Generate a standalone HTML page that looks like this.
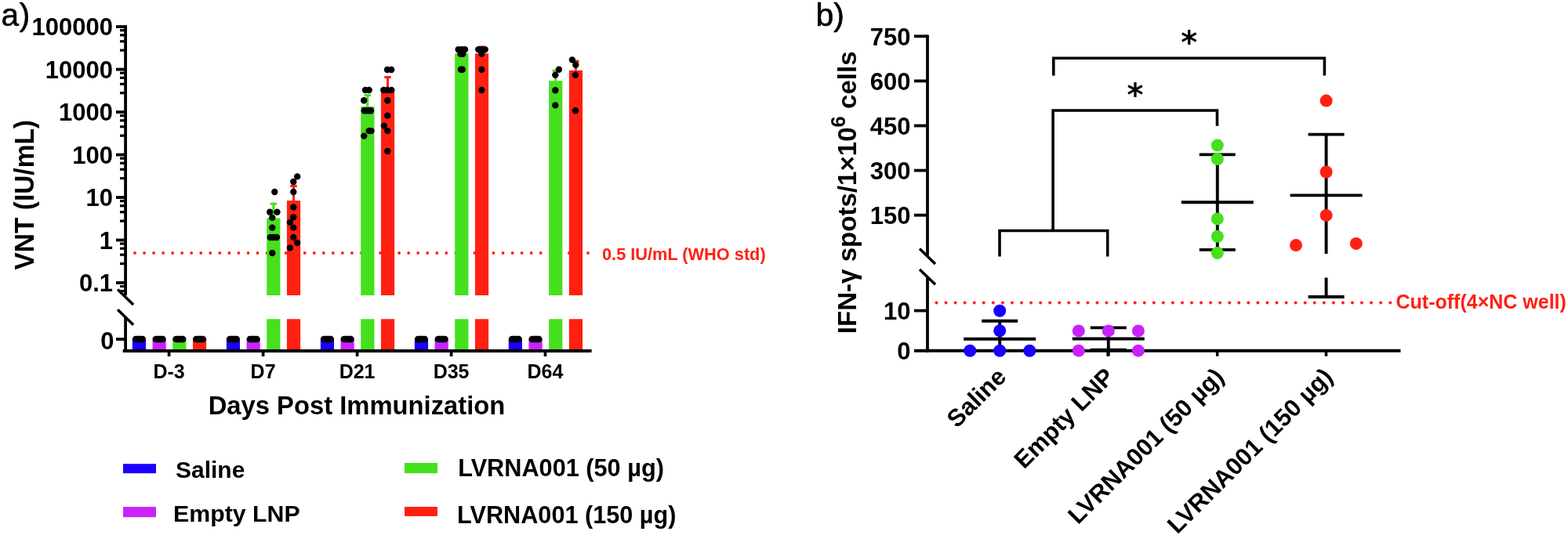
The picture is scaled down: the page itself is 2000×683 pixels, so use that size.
<!DOCTYPE html>
<html><head><meta charset="utf-8"><title>Figure</title>
<style>
html,body{margin:0;padding:0;background:#fff;}
body{width:2000px;height:683px;overflow:hidden;}
svg{display:block;font-family:"Liberation Sans",Arial,sans-serif;}
</style></head>
<body>
<svg width="2000" height="683" viewBox="0 0 2000 683">
<rect width="2000" height="683" fill="#fff"/>
<circle cx="172.00" cy="323.00" r="1.9" fill="#ff2012"/>
<circle cx="184.04" cy="323.00" r="1.9" fill="#ff2012"/>
<circle cx="196.08" cy="323.00" r="1.9" fill="#ff2012"/>
<circle cx="208.12" cy="323.00" r="1.9" fill="#ff2012"/>
<circle cx="220.16" cy="323.00" r="1.9" fill="#ff2012"/>
<circle cx="232.20" cy="323.00" r="1.9" fill="#ff2012"/>
<circle cx="244.24" cy="323.00" r="1.9" fill="#ff2012"/>
<circle cx="256.28" cy="323.00" r="1.9" fill="#ff2012"/>
<circle cx="268.32" cy="323.00" r="1.9" fill="#ff2012"/>
<circle cx="280.36" cy="323.00" r="1.9" fill="#ff2012"/>
<circle cx="292.40" cy="323.00" r="1.9" fill="#ff2012"/>
<circle cx="304.44" cy="323.00" r="1.9" fill="#ff2012"/>
<circle cx="316.48" cy="323.00" r="1.9" fill="#ff2012"/>
<circle cx="328.52" cy="323.00" r="1.9" fill="#ff2012"/>
<circle cx="340.56" cy="323.00" r="1.9" fill="#ff2012"/>
<circle cx="352.60" cy="323.00" r="1.9" fill="#ff2012"/>
<circle cx="364.64" cy="323.00" r="1.9" fill="#ff2012"/>
<circle cx="376.68" cy="323.00" r="1.9" fill="#ff2012"/>
<circle cx="388.72" cy="323.00" r="1.9" fill="#ff2012"/>
<circle cx="400.76" cy="323.00" r="1.9" fill="#ff2012"/>
<circle cx="412.80" cy="323.00" r="1.9" fill="#ff2012"/>
<circle cx="424.84" cy="323.00" r="1.9" fill="#ff2012"/>
<circle cx="436.88" cy="323.00" r="1.9" fill="#ff2012"/>
<circle cx="448.92" cy="323.00" r="1.9" fill="#ff2012"/>
<circle cx="460.96" cy="323.00" r="1.9" fill="#ff2012"/>
<circle cx="473.00" cy="323.00" r="1.9" fill="#ff2012"/>
<circle cx="485.04" cy="323.00" r="1.9" fill="#ff2012"/>
<circle cx="497.08" cy="323.00" r="1.9" fill="#ff2012"/>
<circle cx="509.12" cy="323.00" r="1.9" fill="#ff2012"/>
<circle cx="521.16" cy="323.00" r="1.9" fill="#ff2012"/>
<circle cx="533.20" cy="323.00" r="1.9" fill="#ff2012"/>
<circle cx="545.24" cy="323.00" r="1.9" fill="#ff2012"/>
<circle cx="557.28" cy="323.00" r="1.9" fill="#ff2012"/>
<circle cx="569.32" cy="323.00" r="1.9" fill="#ff2012"/>
<circle cx="581.36" cy="323.00" r="1.9" fill="#ff2012"/>
<circle cx="593.40" cy="323.00" r="1.9" fill="#ff2012"/>
<circle cx="605.44" cy="323.00" r="1.9" fill="#ff2012"/>
<circle cx="617.48" cy="323.00" r="1.9" fill="#ff2012"/>
<circle cx="629.52" cy="323.00" r="1.9" fill="#ff2012"/>
<circle cx="641.56" cy="323.00" r="1.9" fill="#ff2012"/>
<circle cx="653.60" cy="323.00" r="1.9" fill="#ff2012"/>
<circle cx="665.64" cy="323.00" r="1.9" fill="#ff2012"/>
<circle cx="677.68" cy="323.00" r="1.9" fill="#ff2012"/>
<circle cx="689.72" cy="323.00" r="1.9" fill="#ff2012"/>
<circle cx="701.76" cy="323.00" r="1.9" fill="#ff2012"/>
<circle cx="713.80" cy="323.00" r="1.9" fill="#ff2012"/>
<circle cx="725.84" cy="323.00" r="1.9" fill="#ff2012"/>
<circle cx="737.88" cy="323.00" r="1.9" fill="#ff2012"/>
<circle cx="749.92" cy="323.00" r="1.9" fill="#ff2012"/>
<rect x="168.85" y="433.00" width="17.20" height="15.00" fill="#1a00ff"/>
<rect x="194.55" y="433.00" width="17.20" height="15.00" fill="#c822ff"/>
<rect x="220.25" y="433.00" width="17.20" height="15.00" fill="#46e01e"/>
<rect x="245.95" y="433.00" width="17.20" height="15.00" fill="#ff2012"/>
<rect x="288.85" y="433.00" width="17.20" height="15.00" fill="#1a00ff"/>
<rect x="314.55" y="433.00" width="17.20" height="15.00" fill="#c822ff"/>
<rect x="408.85" y="433.00" width="17.20" height="15.00" fill="#1a00ff"/>
<rect x="434.55" y="433.00" width="17.20" height="15.00" fill="#c822ff"/>
<rect x="528.85" y="433.00" width="17.20" height="15.00" fill="#1a00ff"/>
<rect x="554.55" y="433.00" width="17.20" height="15.00" fill="#c822ff"/>
<rect x="648.75" y="433.00" width="17.20" height="15.00" fill="#1a00ff"/>
<rect x="674.45" y="433.00" width="17.20" height="15.00" fill="#c822ff"/>
<line x1="348.85" y1="258.70" x2="348.85" y2="278.50" stroke="#46e01e" stroke-width="3.0" stroke-linecap="butt"/>
<line x1="344.65" y1="260.20" x2="353.05" y2="260.20" stroke="#46e01e" stroke-width="3.0" stroke-linecap="butt"/>
<rect x="340.25" y="278.50" width="17.20" height="98.50" fill="#46e01e"/>
<rect x="340.25" y="407.30" width="17.20" height="40.70" fill="#46e01e"/>
<line x1="374.55" y1="236.00" x2="374.55" y2="256.10" stroke="#ff2012" stroke-width="3.0" stroke-linecap="butt"/>
<line x1="370.35" y1="237.50" x2="378.75" y2="237.50" stroke="#ff2012" stroke-width="3.0" stroke-linecap="butt"/>
<rect x="365.95" y="256.10" width="17.20" height="120.90" fill="#ff2012"/>
<rect x="365.95" y="407.30" width="17.20" height="40.70" fill="#ff2012"/>
<line x1="468.85" y1="120.20" x2="468.85" y2="136.00" stroke="#46e01e" stroke-width="3.0" stroke-linecap="butt"/>
<line x1="464.65" y1="121.70" x2="473.05" y2="121.70" stroke="#46e01e" stroke-width="3.0" stroke-linecap="butt"/>
<rect x="460.25" y="136.00" width="17.20" height="241.00" fill="#46e01e"/>
<rect x="460.25" y="407.30" width="17.20" height="40.70" fill="#46e01e"/>
<line x1="494.55" y1="97.00" x2="494.55" y2="115.00" stroke="#ff2012" stroke-width="3.0" stroke-linecap="butt"/>
<line x1="490.35" y1="98.50" x2="498.75" y2="98.50" stroke="#ff2012" stroke-width="3.0" stroke-linecap="butt"/>
<rect x="485.95" y="115.00" width="17.20" height="262.00" fill="#ff2012"/>
<rect x="485.95" y="407.30" width="17.20" height="40.70" fill="#ff2012"/>
<line x1="588.85" y1="63.00" x2="588.85" y2="68.30" stroke="#46e01e" stroke-width="3.0" stroke-linecap="butt"/>
<line x1="584.65" y1="64.50" x2="593.05" y2="64.50" stroke="#46e01e" stroke-width="3.0" stroke-linecap="butt"/>
<rect x="580.25" y="68.30" width="17.20" height="308.70" fill="#46e01e"/>
<rect x="580.25" y="407.30" width="17.20" height="40.70" fill="#46e01e"/>
<line x1="614.55" y1="58.60" x2="614.55" y2="68.30" stroke="#ff2012" stroke-width="3.0" stroke-linecap="butt"/>
<line x1="610.35" y1="60.10" x2="618.75" y2="60.10" stroke="#ff2012" stroke-width="3.0" stroke-linecap="butt"/>
<rect x="605.95" y="68.30" width="17.20" height="308.70" fill="#ff2012"/>
<rect x="605.95" y="407.30" width="17.20" height="40.70" fill="#ff2012"/>
<line x1="708.75" y1="88.80" x2="708.75" y2="103.20" stroke="#46e01e" stroke-width="3.0" stroke-linecap="butt"/>
<line x1="704.55" y1="90.30" x2="712.95" y2="90.30" stroke="#46e01e" stroke-width="3.0" stroke-linecap="butt"/>
<rect x="700.15" y="103.20" width="17.20" height="273.80" fill="#46e01e"/>
<rect x="700.15" y="407.30" width="17.20" height="40.70" fill="#46e01e"/>
<line x1="734.45" y1="76.70" x2="734.45" y2="89.80" stroke="#ff2012" stroke-width="3.0" stroke-linecap="butt"/>
<line x1="730.25" y1="78.20" x2="738.65" y2="78.20" stroke="#ff2012" stroke-width="3.0" stroke-linecap="butt"/>
<rect x="725.85" y="89.80" width="17.20" height="287.20" fill="#ff2012"/>
<rect x="725.85" y="407.30" width="17.20" height="40.70" fill="#ff2012"/>
<rect x="168.85" y="428.70" width="17.20" height="8.60" fill="#000" rx="4.3"/>
<rect x="194.55" y="428.70" width="17.20" height="8.60" fill="#000" rx="4.3"/>
<rect x="220.25" y="428.70" width="17.20" height="8.60" fill="#000" rx="4.3"/>
<rect x="245.95" y="428.70" width="17.20" height="8.60" fill="#000" rx="4.3"/>
<rect x="288.85" y="428.70" width="17.20" height="8.60" fill="#000" rx="4.3"/>
<rect x="314.55" y="428.70" width="17.20" height="8.60" fill="#000" rx="4.3"/>
<rect x="408.85" y="428.70" width="17.20" height="8.60" fill="#000" rx="4.3"/>
<rect x="434.55" y="428.70" width="17.20" height="8.60" fill="#000" rx="4.3"/>
<rect x="528.85" y="428.70" width="17.20" height="8.60" fill="#000" rx="4.3"/>
<rect x="554.55" y="428.70" width="17.20" height="8.60" fill="#000" rx="4.3"/>
<rect x="648.75" y="428.70" width="17.20" height="8.60" fill="#000" rx="4.3"/>
<rect x="674.45" y="428.70" width="17.20" height="8.60" fill="#000" rx="4.3"/>
<circle cx="350.30" cy="245.00" r="4.2" fill="#000"/>
<circle cx="344.20" cy="270.80" r="4.2" fill="#000"/>
<circle cx="353.50" cy="270.80" r="4.2" fill="#000"/>
<circle cx="347.30" cy="277.90" r="4.2" fill="#000"/>
<circle cx="347.30" cy="290.60" r="4.2" fill="#000"/>
<circle cx="344.70" cy="303.00" r="4.2" fill="#000"/>
<circle cx="348.80" cy="303.00" r="4.2" fill="#000"/>
<circle cx="353.00" cy="303.00" r="4.2" fill="#000"/>
<circle cx="347.30" cy="323.00" r="4.2" fill="#000"/>
<circle cx="379.20" cy="225.40" r="4.2" fill="#000"/>
<circle cx="374.30" cy="232.00" r="4.2" fill="#000"/>
<circle cx="374.30" cy="245.00" r="4.2" fill="#000"/>
<circle cx="374.30" cy="264.50" r="4.2" fill="#000"/>
<circle cx="374.30" cy="277.30" r="4.2" fill="#000"/>
<circle cx="369.90" cy="283.90" r="4.2" fill="#000"/>
<circle cx="374.30" cy="290.60" r="4.2" fill="#000"/>
<circle cx="374.30" cy="303.00" r="4.2" fill="#000"/>
<circle cx="379.20" cy="310.00" r="4.2" fill="#000"/>
<circle cx="369.90" cy="316.40" r="4.2" fill="#000"/>
<circle cx="466.00" cy="115.00" r="4.2" fill="#000"/>
<circle cx="470.70" cy="115.00" r="4.2" fill="#000"/>
<circle cx="464.20" cy="128.20" r="4.2" fill="#000"/>
<circle cx="464.70" cy="141.30" r="4.2" fill="#000"/>
<circle cx="467.50" cy="141.30" r="4.2" fill="#000"/>
<circle cx="470.30" cy="141.30" r="4.2" fill="#000"/>
<circle cx="473.00" cy="141.30" r="4.2" fill="#000"/>
<circle cx="470.70" cy="167.10" r="4.2" fill="#000"/>
<circle cx="473.50" cy="167.10" r="4.2" fill="#000"/>
<circle cx="464.20" cy="173.60" r="4.2" fill="#000"/>
<circle cx="494.00" cy="89.00" r="4.2" fill="#000"/>
<circle cx="499.20" cy="89.00" r="4.2" fill="#000"/>
<circle cx="489.30" cy="115.00" r="4.2" fill="#000"/>
<circle cx="494.00" cy="115.00" r="4.2" fill="#000"/>
<circle cx="499.30" cy="115.00" r="4.2" fill="#000"/>
<circle cx="494.30" cy="128.20" r="4.2" fill="#000"/>
<circle cx="494.30" cy="147.60" r="4.2" fill="#000"/>
<circle cx="489.90" cy="160.60" r="4.2" fill="#000"/>
<circle cx="494.30" cy="167.10" r="4.2" fill="#000"/>
<circle cx="494.30" cy="193.00" r="4.2" fill="#000"/>
<circle cx="584.70" cy="63.30" r="4.2" fill="#000"/>
<circle cx="588.80" cy="63.30" r="4.2" fill="#000"/>
<circle cx="593.00" cy="63.30" r="4.2" fill="#000"/>
<circle cx="587.50" cy="68.80" r="4.2" fill="#000"/>
<circle cx="590.30" cy="68.80" r="4.2" fill="#000"/>
<circle cx="587.80" cy="88.70" r="4.2" fill="#000"/>
<circle cx="589.80" cy="88.70" r="4.2" fill="#000"/>
<circle cx="610.30" cy="63.30" r="4.2" fill="#000"/>
<circle cx="614.50" cy="63.30" r="4.2" fill="#000"/>
<circle cx="618.70" cy="63.30" r="4.2" fill="#000"/>
<circle cx="614.30" cy="68.80" r="4.2" fill="#000"/>
<circle cx="614.30" cy="88.70" r="4.2" fill="#000"/>
<circle cx="614.30" cy="115.00" r="4.2" fill="#000"/>
<circle cx="712.90" cy="88.80" r="4.2" fill="#000"/>
<circle cx="708.30" cy="95.70" r="4.2" fill="#000"/>
<circle cx="708.30" cy="115.30" r="4.2" fill="#000"/>
<circle cx="708.30" cy="134.40" r="4.2" fill="#000"/>
<circle cx="729.90" cy="76.40" r="4.2" fill="#000"/>
<circle cx="734.30" cy="82.70" r="4.2" fill="#000"/>
<circle cx="734.00" cy="95.70" r="4.2" fill="#000"/>
<circle cx="734.00" cy="141.30" r="4.2" fill="#000"/>
<line x1="160.10" y1="32.20" x2="160.10" y2="377.00" stroke="#000" stroke-width="3.8" stroke-linecap="butt"/>
<line x1="160.10" y1="405.00" x2="160.10" y2="449.90" stroke="#000" stroke-width="3.8" stroke-linecap="butt"/>
<line x1="156.70" y1="448.00" x2="754.60" y2="448.00" stroke="#000" stroke-width="4.0" stroke-linecap="butt"/>
<line x1="150.10" y1="369.50" x2="170.10" y2="389.00" stroke="#000" stroke-width="3.5" stroke-linecap="butt"/>
<line x1="150.10" y1="395.25" x2="170.10" y2="414.75" stroke="#000" stroke-width="3.5" stroke-linecap="butt"/>
<line x1="148.00" y1="34.10" x2="160.10" y2="34.10" stroke="#000" stroke-width="3.8" stroke-linecap="butt"/>
<line x1="148.00" y1="88.58" x2="160.10" y2="88.58" stroke="#000" stroke-width="3.8" stroke-linecap="butt"/>
<line x1="148.00" y1="143.06" x2="160.10" y2="143.06" stroke="#000" stroke-width="3.8" stroke-linecap="butt"/>
<line x1="148.00" y1="197.54" x2="160.10" y2="197.54" stroke="#000" stroke-width="3.8" stroke-linecap="butt"/>
<line x1="148.00" y1="252.02" x2="160.10" y2="252.02" stroke="#000" stroke-width="3.8" stroke-linecap="butt"/>
<line x1="148.00" y1="306.50" x2="160.10" y2="306.50" stroke="#000" stroke-width="3.8" stroke-linecap="butt"/>
<line x1="148.00" y1="360.98" x2="160.10" y2="360.98" stroke="#000" stroke-width="3.8" stroke-linecap="butt"/>
<line x1="153.00" y1="38.70" x2="160.10" y2="38.70" stroke="#000" stroke-width="3.2" stroke-linecap="butt"/>
<line x1="153.00" y1="44.85" x2="160.10" y2="44.85" stroke="#000" stroke-width="3.2" stroke-linecap="butt"/>
<line x1="153.00" y1="52.80" x2="160.10" y2="52.80" stroke="#000" stroke-width="3.2" stroke-linecap="butt"/>
<line x1="153.00" y1="64.20" x2="160.10" y2="64.20" stroke="#000" stroke-width="3.2" stroke-linecap="butt"/>
<line x1="153.00" y1="93.18" x2="160.10" y2="93.18" stroke="#000" stroke-width="3.2" stroke-linecap="butt"/>
<line x1="153.00" y1="99.33" x2="160.10" y2="99.33" stroke="#000" stroke-width="3.2" stroke-linecap="butt"/>
<line x1="153.00" y1="107.28" x2="160.10" y2="107.28" stroke="#000" stroke-width="3.2" stroke-linecap="butt"/>
<line x1="153.00" y1="118.68" x2="160.10" y2="118.68" stroke="#000" stroke-width="3.2" stroke-linecap="butt"/>
<line x1="153.00" y1="147.66" x2="160.10" y2="147.66" stroke="#000" stroke-width="3.2" stroke-linecap="butt"/>
<line x1="153.00" y1="153.81" x2="160.10" y2="153.81" stroke="#000" stroke-width="3.2" stroke-linecap="butt"/>
<line x1="153.00" y1="161.76" x2="160.10" y2="161.76" stroke="#000" stroke-width="3.2" stroke-linecap="butt"/>
<line x1="153.00" y1="173.16" x2="160.10" y2="173.16" stroke="#000" stroke-width="3.2" stroke-linecap="butt"/>
<line x1="153.00" y1="202.14" x2="160.10" y2="202.14" stroke="#000" stroke-width="3.2" stroke-linecap="butt"/>
<line x1="153.00" y1="208.29" x2="160.10" y2="208.29" stroke="#000" stroke-width="3.2" stroke-linecap="butt"/>
<line x1="153.00" y1="216.24" x2="160.10" y2="216.24" stroke="#000" stroke-width="3.2" stroke-linecap="butt"/>
<line x1="153.00" y1="227.64" x2="160.10" y2="227.64" stroke="#000" stroke-width="3.2" stroke-linecap="butt"/>
<line x1="153.00" y1="256.62" x2="160.10" y2="256.62" stroke="#000" stroke-width="3.2" stroke-linecap="butt"/>
<line x1="153.00" y1="262.77" x2="160.10" y2="262.77" stroke="#000" stroke-width="3.2" stroke-linecap="butt"/>
<line x1="153.00" y1="270.72" x2="160.10" y2="270.72" stroke="#000" stroke-width="3.2" stroke-linecap="butt"/>
<line x1="153.00" y1="282.12" x2="160.10" y2="282.12" stroke="#000" stroke-width="3.2" stroke-linecap="butt"/>
<line x1="153.00" y1="311.10" x2="160.10" y2="311.10" stroke="#000" stroke-width="3.2" stroke-linecap="butt"/>
<line x1="153.00" y1="317.25" x2="160.10" y2="317.25" stroke="#000" stroke-width="3.2" stroke-linecap="butt"/>
<line x1="153.00" y1="325.20" x2="160.10" y2="325.20" stroke="#000" stroke-width="3.2" stroke-linecap="butt"/>
<line x1="153.00" y1="336.60" x2="160.10" y2="336.60" stroke="#000" stroke-width="3.2" stroke-linecap="butt"/>
<line x1="153.00" y1="365.58" x2="160.10" y2="365.58" stroke="#000" stroke-width="3.0" stroke-linecap="butt"/>
<line x1="153.00" y1="371.48" x2="160.10" y2="371.48" stroke="#000" stroke-width="3.0" stroke-linecap="butt"/>
<line x1="148.00" y1="433.00" x2="160.10" y2="433.00" stroke="#000" stroke-width="3.8" stroke-linecap="butt"/>
<line x1="215.60" y1="448.00" x2="215.60" y2="455.00" stroke="#000" stroke-width="3.7" stroke-linecap="butt"/>
<line x1="335.60" y1="448.00" x2="335.60" y2="455.00" stroke="#000" stroke-width="3.7" stroke-linecap="butt"/>
<line x1="455.60" y1="448.00" x2="455.60" y2="455.00" stroke="#000" stroke-width="3.7" stroke-linecap="butt"/>
<line x1="575.60" y1="448.00" x2="575.60" y2="455.00" stroke="#000" stroke-width="3.7" stroke-linecap="butt"/>
<line x1="695.50" y1="448.00" x2="695.50" y2="455.00" stroke="#000" stroke-width="3.7" stroke-linecap="butt"/>
<text x="144.00" y="45.40" font-size="31" font-weight="bold" text-anchor="end" fill="#000">100000</text>
<text x="144.00" y="99.88" font-size="31" font-weight="bold" text-anchor="end" fill="#000">10000</text>
<text x="144.00" y="154.36" font-size="31" font-weight="bold" text-anchor="end" fill="#000">1000</text>
<text x="144.00" y="208.84" font-size="31" font-weight="bold" text-anchor="end" fill="#000">100</text>
<text x="144.00" y="263.32" font-size="31" font-weight="bold" text-anchor="end" fill="#000">10</text>
<text x="144.00" y="317.80" font-size="31" font-weight="bold" text-anchor="end" fill="#000">1</text>
<text x="144.00" y="372.28" font-size="31" font-weight="bold" text-anchor="end" fill="#000">0.1</text>
<text x="145.60" y="446.00" font-size="31" font-weight="bold" text-anchor="end" fill="#000">0</text>
<text x="215.60" y="482.60" font-size="25" font-weight="bold" text-anchor="middle" fill="#000">D-3</text>
<text x="335.60" y="482.60" font-size="25" font-weight="bold" text-anchor="middle" fill="#000">D7</text>
<text x="455.60" y="482.60" font-size="25" font-weight="bold" text-anchor="middle" fill="#000">D21</text>
<text x="575.60" y="482.60" font-size="25" font-weight="bold" text-anchor="middle" fill="#000">D35</text>
<text x="695.50" y="482.60" font-size="25" font-weight="bold" text-anchor="middle" fill="#000">D64</text>
<text x="455.00" y="529.00" font-size="33.2" font-weight="bold" text-anchor="middle" fill="#000" textLength="378.6" lengthAdjust="spacingAndGlyphs">Days Post Immunization</text>
<text transform="translate(43.1,248.75) rotate(-90)" font-size="34.8" textLength="191.5" lengthAdjust="spacingAndGlyphs" font-weight="bold" text-anchor="middle" fill="#000">VNT (IU/mL)</text>
<text x="1.5" y="33" font-size="40.5" fill="#000" stroke="#000" stroke-width="0.6">a<tspan dx="0.8">)</tspan></text>
<text x="768.00" y="332.00" font-size="21.75" font-weight="bold" text-anchor="start" fill="#ff2012">0.5 IU/mL (WHO std)</text>
<rect x="157.00" y="592.20" width="42.00" height="12.00" fill="#1a00ff"/>
<rect x="157.00" y="647.10" width="42.00" height="13.10" fill="#c822ff"/>
<rect x="516.00" y="591.00" width="42.00" height="13.20" fill="#46e01e"/>
<rect x="516.00" y="647.00" width="42.00" height="12.00" fill="#ff2012"/>
<text x="224.00" y="610.00" font-size="30" font-weight="bold" text-anchor="start" fill="#000">Saline</text>
<text x="221.00" y="666.40" font-size="30.3" font-weight="bold" text-anchor="start" fill="#000">Empty LNP</text>
<text x="584.20" y="607.80" font-size="30.7" font-weight="bold" text-anchor="start" fill="#000">LVRNA001 (50 µg)</text>
<text x="583.10" y="667.50" font-size="30.65" font-weight="bold" text-anchor="start" fill="#000">LVRNA001 (150 µg)</text>
<circle cx="1194.50" cy="386.60" r="2.0" fill="#ff2012"/>
<circle cx="1206.56" cy="386.60" r="2.0" fill="#ff2012"/>
<circle cx="1218.61" cy="386.60" r="2.0" fill="#ff2012"/>
<circle cx="1230.67" cy="386.60" r="2.0" fill="#ff2012"/>
<circle cx="1242.72" cy="386.60" r="2.0" fill="#ff2012"/>
<circle cx="1254.78" cy="386.60" r="2.0" fill="#ff2012"/>
<circle cx="1266.84" cy="386.60" r="2.0" fill="#ff2012"/>
<circle cx="1278.89" cy="386.60" r="2.0" fill="#ff2012"/>
<circle cx="1290.95" cy="386.60" r="2.0" fill="#ff2012"/>
<circle cx="1303.00" cy="386.60" r="2.0" fill="#ff2012"/>
<circle cx="1315.06" cy="386.60" r="2.0" fill="#ff2012"/>
<circle cx="1327.12" cy="386.60" r="2.0" fill="#ff2012"/>
<circle cx="1339.17" cy="386.60" r="2.0" fill="#ff2012"/>
<circle cx="1351.23" cy="386.60" r="2.0" fill="#ff2012"/>
<circle cx="1363.28" cy="386.60" r="2.0" fill="#ff2012"/>
<circle cx="1375.34" cy="386.60" r="2.0" fill="#ff2012"/>
<circle cx="1387.40" cy="386.60" r="2.0" fill="#ff2012"/>
<circle cx="1399.45" cy="386.60" r="2.0" fill="#ff2012"/>
<circle cx="1411.51" cy="386.60" r="2.0" fill="#ff2012"/>
<circle cx="1423.56" cy="386.60" r="2.0" fill="#ff2012"/>
<circle cx="1435.62" cy="386.60" r="2.0" fill="#ff2012"/>
<circle cx="1447.68" cy="386.60" r="2.0" fill="#ff2012"/>
<circle cx="1459.73" cy="386.60" r="2.0" fill="#ff2012"/>
<circle cx="1471.79" cy="386.60" r="2.0" fill="#ff2012"/>
<circle cx="1483.84" cy="386.60" r="2.0" fill="#ff2012"/>
<circle cx="1495.90" cy="386.60" r="2.0" fill="#ff2012"/>
<circle cx="1507.96" cy="386.60" r="2.0" fill="#ff2012"/>
<circle cx="1520.01" cy="386.60" r="2.0" fill="#ff2012"/>
<circle cx="1532.07" cy="386.60" r="2.0" fill="#ff2012"/>
<circle cx="1544.12" cy="386.60" r="2.0" fill="#ff2012"/>
<circle cx="1556.18" cy="386.60" r="2.0" fill="#ff2012"/>
<circle cx="1568.24" cy="386.60" r="2.0" fill="#ff2012"/>
<circle cx="1580.29" cy="386.60" r="2.0" fill="#ff2012"/>
<circle cx="1592.35" cy="386.60" r="2.0" fill="#ff2012"/>
<circle cx="1604.40" cy="386.60" r="2.0" fill="#ff2012"/>
<circle cx="1616.46" cy="386.60" r="2.0" fill="#ff2012"/>
<circle cx="1628.52" cy="386.60" r="2.0" fill="#ff2012"/>
<circle cx="1640.57" cy="386.60" r="2.0" fill="#ff2012"/>
<circle cx="1652.63" cy="386.60" r="2.0" fill="#ff2012"/>
<circle cx="1664.68" cy="386.60" r="2.0" fill="#ff2012"/>
<circle cx="1676.74" cy="386.60" r="2.0" fill="#ff2012"/>
<circle cx="1688.80" cy="386.60" r="2.0" fill="#ff2012"/>
<circle cx="1700.85" cy="386.60" r="2.0" fill="#ff2012"/>
<circle cx="1712.91" cy="386.60" r="2.0" fill="#ff2012"/>
<circle cx="1724.96" cy="386.60" r="2.0" fill="#ff2012"/>
<circle cx="1737.02" cy="386.60" r="2.0" fill="#ff2012"/>
<circle cx="1749.08" cy="386.60" r="2.0" fill="#ff2012"/>
<circle cx="1761.13" cy="386.60" r="2.0" fill="#ff2012"/>
<circle cx="1773.19" cy="386.60" r="2.0" fill="#ff2012"/>
<text x="1780.50" y="393.50" font-size="25" font-weight="bold" text-anchor="start" fill="#ff2012">Cut-off(4×NC well)</text>
<path d="M1343.8,96.6 V74.2 H1689.4 V96.6" fill="none" stroke="#000" stroke-width="3.6" stroke-linejoin="miter" stroke-linecap="butt"/>
<path d="M1343.1,294.5 V141.0 H1552.5 V160.7" fill="none" stroke="#000" stroke-width="3.6" stroke-linejoin="miter" stroke-linecap="butt"/>
<path d="M1275.0,327.4 V294.5 H1412.7 V327.4" fill="none" stroke="#000" stroke-width="3.6" stroke-linejoin="miter" stroke-linecap="butt"/>
<text x="1516.6" y="67.5" font-size="40" font-weight="bold" text-anchor="middle" font-family="DejaVu Sans, sans-serif">*</text>
<text x="1448" y="134.8" font-size="40" font-weight="bold" text-anchor="middle" font-family="DejaVu Sans, sans-serif">*</text>
<line x1="1229.20" y1="432.75" x2="1321.20" y2="432.75" stroke="#000" stroke-width="3.9" stroke-linecap="butt"/>
<line x1="1275.20" y1="409.80" x2="1275.20" y2="448.00" stroke="#000" stroke-width="3.9" stroke-linecap="butt"/>
<line x1="1252.20" y1="409.80" x2="1298.20" y2="409.80" stroke="#000" stroke-width="3.9" stroke-linecap="butt"/>
<line x1="1367.80" y1="432.50" x2="1459.80" y2="432.50" stroke="#000" stroke-width="3.9" stroke-linecap="butt"/>
<line x1="1413.80" y1="418.40" x2="1413.80" y2="454.40" stroke="#000" stroke-width="3.9" stroke-linecap="butt"/>
<line x1="1390.80" y1="418.40" x2="1436.80" y2="418.40" stroke="#000" stroke-width="3.9" stroke-linecap="butt"/>
<line x1="1390.80" y1="446.70" x2="1436.80" y2="446.70" stroke="#000" stroke-width="3.9" stroke-linecap="butt"/>
<line x1="1506.80" y1="258.30" x2="1598.80" y2="258.30" stroke="#000" stroke-width="3.9" stroke-linecap="butt"/>
<line x1="1552.80" y1="197.40" x2="1552.80" y2="318.90" stroke="#000" stroke-width="3.9" stroke-linecap="butt"/>
<line x1="1529.80" y1="197.40" x2="1575.80" y2="197.40" stroke="#000" stroke-width="3.9" stroke-linecap="butt"/>
<line x1="1529.80" y1="318.90" x2="1575.80" y2="318.90" stroke="#000" stroke-width="3.9" stroke-linecap="butt"/>
<line x1="1645.60" y1="249.40" x2="1737.60" y2="249.40" stroke="#000" stroke-width="3.9" stroke-linecap="butt"/>
<line x1="1691.60" y1="171.60" x2="1691.60" y2="324.00" stroke="#000" stroke-width="3.9" stroke-linecap="butt"/>
<line x1="1668.60" y1="171.60" x2="1714.60" y2="171.60" stroke="#000" stroke-width="3.9" stroke-linecap="butt"/>
<line x1="1691.60" y1="354.50" x2="1691.60" y2="379.00" stroke="#000" stroke-width="3.9" stroke-linecap="butt"/>
<line x1="1668.60" y1="379.00" x2="1714.60" y2="379.00" stroke="#000" stroke-width="3.9" stroke-linecap="butt"/>
<line x1="1183.00" y1="44.50" x2="1183.00" y2="326.00" stroke="#000" stroke-width="3.8" stroke-linecap="butt"/>
<line x1="1183.00" y1="354.50" x2="1183.00" y2="449.90" stroke="#000" stroke-width="3.8" stroke-linecap="butt"/>
<line x1="1166.00" y1="447.80" x2="1786.50" y2="447.80" stroke="#000" stroke-width="4.0" stroke-linecap="butt"/>
<line x1="1173.00" y1="317.50" x2="1193.00" y2="336.90" stroke="#000" stroke-width="3.5" stroke-linecap="butt"/>
<line x1="1173.00" y1="343.90" x2="1193.00" y2="363.30" stroke="#000" stroke-width="3.5" stroke-linecap="butt"/>
<line x1="1166.00" y1="46.30" x2="1183.00" y2="46.30" stroke="#000" stroke-width="3.8" stroke-linecap="butt"/>
<text x="1161.50" y="57.60" font-size="31" font-weight="bold" text-anchor="end" fill="#000">750</text>
<line x1="1166.00" y1="103.40" x2="1183.00" y2="103.40" stroke="#000" stroke-width="3.8" stroke-linecap="butt"/>
<text x="1161.50" y="114.70" font-size="31" font-weight="bold" text-anchor="end" fill="#000">600</text>
<line x1="1166.00" y1="160.50" x2="1183.00" y2="160.50" stroke="#000" stroke-width="3.8" stroke-linecap="butt"/>
<text x="1161.50" y="171.80" font-size="31" font-weight="bold" text-anchor="end" fill="#000">450</text>
<line x1="1166.00" y1="217.60" x2="1183.00" y2="217.60" stroke="#000" stroke-width="3.8" stroke-linecap="butt"/>
<text x="1161.50" y="228.90" font-size="31" font-weight="bold" text-anchor="end" fill="#000">300</text>
<line x1="1166.00" y1="274.70" x2="1183.00" y2="274.70" stroke="#000" stroke-width="3.8" stroke-linecap="butt"/>
<text x="1161.50" y="286.00" font-size="31" font-weight="bold" text-anchor="end" fill="#000">150</text>
<line x1="1166.00" y1="396.60" x2="1183.00" y2="396.60" stroke="#000" stroke-width="3.8" stroke-linecap="butt"/>
<text x="1161.50" y="407.90" font-size="31" font-weight="bold" text-anchor="end" fill="#000">10</text>
<text x="1161.50" y="459.30" font-size="31" font-weight="bold" text-anchor="end" fill="#000">0</text>
<line x1="1275.20" y1="448.00" x2="1275.20" y2="454.75" stroke="#000" stroke-width="3.6" stroke-linecap="butt"/>
<line x1="1413.20" y1="448.00" x2="1413.20" y2="454.75" stroke="#000" stroke-width="3.6" stroke-linecap="butt"/>
<line x1="1552.70" y1="448.00" x2="1552.70" y2="454.75" stroke="#000" stroke-width="3.6" stroke-linecap="butt"/>
<line x1="1691.50" y1="448.00" x2="1691.50" y2="454.75" stroke="#000" stroke-width="3.6" stroke-linecap="butt"/>
<circle cx="1275.20" cy="396.75" r="8.0" fill="#1a00ff"/>
<circle cx="1275.20" cy="422.25" r="8.0" fill="#1a00ff"/>
<circle cx="1237.25" cy="447.75" r="8.0" fill="#1a00ff"/>
<circle cx="1275.20" cy="447.75" r="8.0" fill="#1a00ff"/>
<circle cx="1313.30" cy="447.75" r="8.0" fill="#1a00ff"/>
<circle cx="1375.80" cy="422.40" r="8.0" fill="#c822ff"/>
<circle cx="1413.80" cy="422.40" r="8.0" fill="#c822ff"/>
<circle cx="1451.90" cy="422.40" r="8.0" fill="#c822ff"/>
<circle cx="1375.80" cy="447.70" r="8.0" fill="#c822ff"/>
<circle cx="1451.90" cy="447.70" r="8.0" fill="#c822ff"/>
<circle cx="1552.80" cy="185.60" r="8.0" fill="#46e01e"/>
<circle cx="1552.80" cy="203.00" r="8.0" fill="#46e01e"/>
<circle cx="1552.80" cy="279.40" r="8.0" fill="#46e01e"/>
<circle cx="1552.80" cy="301.80" r="8.0" fill="#46e01e"/>
<circle cx="1552.80" cy="322.90" r="8.0" fill="#46e01e"/>
<circle cx="1691.60" cy="128.60" r="8.0" fill="#ff2012"/>
<circle cx="1691.60" cy="219.50" r="8.0" fill="#ff2012"/>
<circle cx="1691.60" cy="274.90" r="8.0" fill="#ff2012"/>
<circle cx="1653.00" cy="313.10" r="8.0" fill="#ff2012"/>
<circle cx="1729.80" cy="310.90" r="8.0" fill="#ff2012"/>
<text transform="translate(1092.3,245.8) rotate(-90)" font-size="33.1" font-weight="bold" text-anchor="middle" fill="#000">IFN-γ spots/1×10<tspan dy="-14.7" font-size="25.5">6</tspan><tspan dy="14.7"> cells</tspan></text>
<text x="1040.5" y="33" font-size="41" fill="#000" stroke="#000" stroke-width="0.6">b)</text>
<text transform="translate(1285.2,482.9) rotate(-45)" font-size="31" font-weight="bold" text-anchor="end" fill="#000">Saline</text>
<text transform="translate(1423.2,482.9) rotate(-45)" font-size="31" font-weight="bold" text-anchor="end" fill="#000">Empty LNP</text>
<text transform="translate(1562.7,482.9) rotate(-45)" font-size="31" font-weight="bold" text-anchor="end" fill="#000">LVRNA001 (50 µg)</text>
<text transform="translate(1701.5,482.9) rotate(-45)" font-size="31" font-weight="bold" text-anchor="end" fill="#000">LVRNA001 (150 µg)</text>
</svg>
</body></html>
